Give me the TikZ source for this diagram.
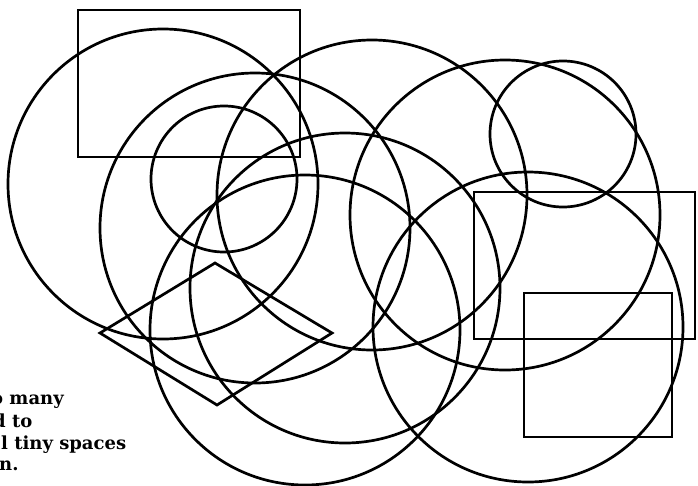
\documentclass[tikz,border=0pt]{standalone}
\usepackage{fontspec}
\newfontfamily\captfont{DejaVu Serif}
\begin{document}
\begin{tikzpicture}[x={(1pt,0pt)},y={(0pt,-1pt)},
  outl/.style={line width=2.7pt,black,line join=miter},
  txt/.style={anchor=base west,inner sep=0pt,font=\captfont\bfseries\fontsize{18}{22}\selectfont}]
\useasboundingbox (0,0) rectangle (698,485);
\clip (0,0) rectangle (698,485);
\fill[white] (0,0) rectangle (698,485);
% rectangles
\draw[outl] (78,10) rectangle (300,157);
\draw[outl] (474,192) rectangle (695,339);
\draw[outl] (524,293) rectangle (672,437);
% quadrilateral
\draw[outl] (100,333) -- (215,263) -- (332,333) -- (217,405) -- cycle;
% large circles
\draw[outl] (163,184) circle[radius=155pt];
\draw[outl] (255,228) circle[radius=155pt];
\draw[outl] (372,195) circle[radius=155pt];
\draw[outl] (505,215) circle[radius=155pt];
\draw[outl] (528,327) circle[radius=155pt];
\draw[outl] (345,288) circle[radius=155pt];
\draw[outl] (305,330) circle[radius=155pt];
% small circles
\draw[outl] (224,179) circle[radius=73pt];
\draw[outl] (563,134) circle[radius=73pt];
% text (cut at the left edge as in the reference)
\node[txt] (t1) at (-9,404) {o many};
\node[txt] (t2) at (-7,427) {d to};
\node[txt] (t3) at (1,449) {l tiny spaces};
\node[txt] (t4) at (-1,470) {n.};
\end{tikzpicture}
\end{document}
